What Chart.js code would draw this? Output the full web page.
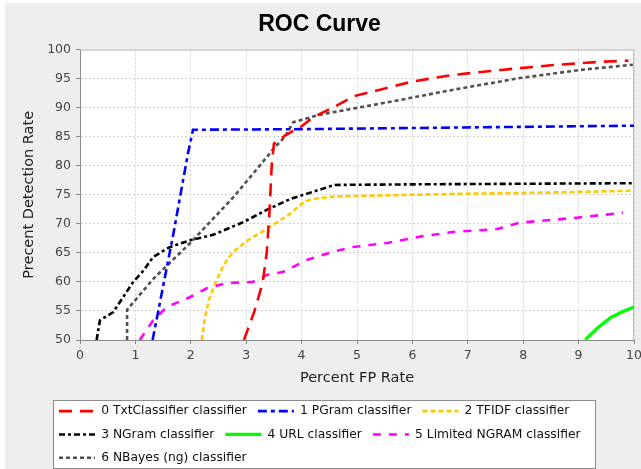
<!DOCTYPE html>
<html>
<head>
<meta charset="utf-8">
<title>ROC Curve</title>
<script src="https://cdn.jsdelivr.net/npm/chart.js@4.4.1/dist/chart.umd.min.js"></script>
<style>
  html, body { margin: 0; padding: 0; background: #ffffff; }
  #wrap { position: absolute; left: 5px; top: 3px; width: 636px; height: 466px; background: #eeeeee; }
</style>
</head>
<body>
<div id="wrap"><canvas id="roc" width="636" height="466"></canvas></div>
<script>
// series values (x = percent FP rate, y = percent detection rate)
const txtX = [2.96, 3.15, 3.3, 3.37, 3.42, 3.46, 3.5, 3.7, 4.0, 4.2, 4.6, 4.95, 5.5, 6.0, 6.7, 7.6, 8.5, 9.4, 9.9];
const txtY = [50, 55, 60, 65, 72, 80, 83.8, 85.2, 86.8, 88.3, 90.2, 92.0, 93.3, 94.5, 95.6, 96.5, 97.3, 97.9, 98.1];

const pgramX = [1.31, 1.68, 1.95, 2.04, 4, 6, 8, 10];
const pgramY = [50, 68.0, 82.2, 86.2, 86.3, 86.5, 86.7, 86.9];

const tfidfX = [2.2, 2.25, 2.33, 2.45, 2.6, 2.75, 3.0, 3.4, 3.8, 4.05, 4.2, 4.6, 5, 6, 7, 8, 9, 10];
const tfidfY = [50, 53.5, 57, 60, 63, 65, 67, 69.3, 71.8, 73.8, 74.3, 74.7, 74.8, 75.0, 75.2, 75.3, 75.5, 75.7];

const ngramX = [0.3, 0.36, 0.6, 0.96, 1.15, 1.32, 1.62, 2.0, 2.4, 2.95, 3.37, 3.8, 4.33, 4.6, 6, 8, 10];
const ngramY = [50, 53.4, 54.8, 60, 62, 64.3, 66, 67.2, 68.1, 70.3, 72.4, 74.3, 75.9, 76.7, 76.8, 76.9, 77.0];

const urlX = [9.12, 9.33, 9.57, 9.8, 10];
const urlY = [50, 52, 53.8, 54.9, 55.7];

const limitedX = [1.08, 1.32, 1.57, 1.99, 2.29, 2.65, 3.12, 3.37, 3.66, 4.1, 4.6, 4.93, 5.54, 6.14, 6.74, 7.53, 7.94, 8.9, 9.8];
const limitedY = [50, 53.4, 55.7, 57.4, 58.9, 59.8, 60, 61.2, 61.7, 63.8, 65.3, 66, 66.7, 67.8, 68.6, 69.1, 70.2, 71, 71.9];

const nbayesX = [0.85, 0.85, 1.32, 2.0, 2.76, 3.2, 3.5, 3.7, 3.85, 4.33, 5.54, 6.74, 7.94, 9.03, 9.98];
const nbayesY = [50, 55.2, 60.5, 66.8, 74.5, 79.5, 83, 85, 87.5, 88.8, 90.9, 93.1, 95.1, 96.5, 97.4];

const seriesNames = [
    '0 TxtClassifier classifier',
    '1 PGram classifier',
    '2 TFIDF classifier',
    '3 NGram classifier',
    '4 URL classifier',
    '5 Limited NGRAM classifier',
    '6 NBayes (ng) classifier',
];
const xTicks = { min: 0, max: 10, step: 1 };
const yTicks = { min: 50, max: 100, step: 5 };

const toPoints = (xs, ys) => xs.map((x, i) => ({ x: x, y: ys[i] }));

const SANS = '"DejaVu Sans", sans-serif';
const LEGEND_W = 600;   // legend wraps inside the boxed area
const LEGEND_H = 75;

// white plot background, legend frame, top/right plot border
const frame = {
    id: 'frame',
    afterInit(chart) {
        const lg = chart.legend;
        const origFit = lg.fit;
        lg.fit = function () {
            this.maxWidth = Math.min(this.maxWidth, LEGEND_W - 43);
            origFit.call(this);
            this.height = LEGEND_H;
        };
    },
    afterLayout(chart) {
        chart.legend.left = 43;
        chart.legend.right = LEGEND_W;
    },
    beforeDraw(chart) {
        const { ctx, chartArea: a } = chart;
        ctx.save();
        ctx.fillStyle = '#ffffff';
        ctx.fillRect(a.left, a.top, a.right - a.left, a.bottom - a.top);
        const lg = chart.legend;
        ctx.fillRect(48.5, lg.top + 6.5, 542, 68);
        ctx.strokeStyle = '#8c8c8c';
        ctx.lineWidth = 1;
        ctx.strokeRect(48.5, lg.top + 6.5, 542, 68);
        ctx.restore();
    },
    beforeDatasetsDraw(chart) {
        const { ctx, chartArea: a } = chart;
        ctx.save();
        ctx.strokeStyle = '#bdbdbd';
        ctx.lineWidth = 1;
        ctx.beginPath();
        ctx.moveTo(a.left, a.top + 0.5);
        ctx.lineTo(a.right - 0.5, a.top + 0.5);
        ctx.lineTo(a.right - 0.5, a.bottom);
        ctx.stroke();
        ctx.restore();
    },
};

function series(label, xs, ys, color, dash, width) {
    return {
        label: label,
        data: toPoints(xs, ys),
        borderColor: color,
        backgroundColor: color,
        borderWidth: width,
        borderDash: dash,
        borderCapStyle: 'butt',
        pointRadius: 0,
        tension: 0,
        fill: false,
    };
}

new Chart(document.getElementById('roc'), {
    type: 'line',
    data: {
        datasets: [
            series(seriesNames[0], txtX, txtY, '#ff0000', [13, 8], 2.6),
            series(seriesNames[1], pgramX, pgramY, '#0000ff', [9, 4, 4, 4], 2.6),
            series(seriesNames[2], tfidfX, tfidfY, '#ffc800', [5, 3], 2.6),
            series(seriesNames[3], ngramX, ngramY, '#000000', [6, 3, 3, 3], 2.6),
            series(seriesNames[4], urlX, urlY, '#00ff00', [], 3.2),
            series(seriesNames[5], limitedX, limitedY, '#ff00ff', [8, 8], 2.6),
            series(seriesNames[6], nbayesX, nbayesY, '#505050', [4, 3], 2.6),
        ],
    },
    plugins: [frame],
    options: {
        responsive: false,
        animation: false,
        layout: { padding: { left: 0, right: 7, top: 0, bottom: 0 } },
        plugins: {
            title: {
                display: true,
                text: 'ROC Curve',
                color: '#000000',
                font: { family: '"Liberation Sans", Arial, sans-serif', size: 23, weight: 'bold' },
                padding: { top: 8, bottom: 11 },
            },
            legend: {
                position: 'bottom',
                align: 'start',
                labels: {
                    usePointStyle: true,
                    pointStyle: 'line',
                    pointStyleWidth: 36,
                    padding: 11,
                    color: '#111111',
                    font: { family: SANS, size: 12.3 },
                    // take the dash pattern of each line into its legend sample
                    generateLabels(chart) {
                        const items = Chart.defaults.plugins.legend.labels.generateLabels(chart);
                        items.forEach(item => {
                            const ds = chart.data.datasets[item.datasetIndex];
                            item.lineDash = ds.borderDash;
                            item.lineWidth = ds.borderWidth;
                            item.strokeStyle = ds.borderColor;
                        });
                        return items;
                    },
                },
            },
            tooltip: { enabled: false },
        },
        scales: {
            x: {
                type: 'linear',
                min: xTicks.min,
                max: xTicks.max,
                ticks: { stepSize: xTicks.step, padding: 4, color: '#444444', font: { family: SANS, size: 12.5 } },
                grid: { color: '#d2d2d2', tickColor: '#8a8a8a', tickLength: 4 },
                border: { color: '#8a8a8a', dash: [2, 2] },
                title: {
                    display: true,
                    text: 'Percent FP Rate',
                    color: '#222222',
                    font: { family: SANS, size: 14.5 },
                    padding: { top: 0, bottom: 7 },
                },
                afterFit(scale) {
                    scale.height = 54;
                    scale.paddingLeft = 0;
                    scale.paddingRight = 0;
                },
            },
            y: {
                min: yTicks.min,
                max: yTicks.max,
                ticks: { stepSize: yTicks.step, padding: 5, color: '#444444', font: { family: SANS, size: 12.5 } },
                grid: { color: '#d2d2d2', tickColor: '#8a8a8a', tickLength: 4 },
                border: { color: '#8a8a8a', dash: [2, 2] },
                title: {
                    display: true,
                    text: 'Precent Detection Rate',
                    color: '#222222',
                    font: { family: SANS, size: 14.5 },
                    padding: { top: 16, bottom: 0 },
                },
                afterFit(scale) {
                    scale.width = 75;
                    scale.paddingTop = 0;
                    scale.paddingBottom = 0;
                },
            },
        },
    },
});
</script>
</body>
</html>
